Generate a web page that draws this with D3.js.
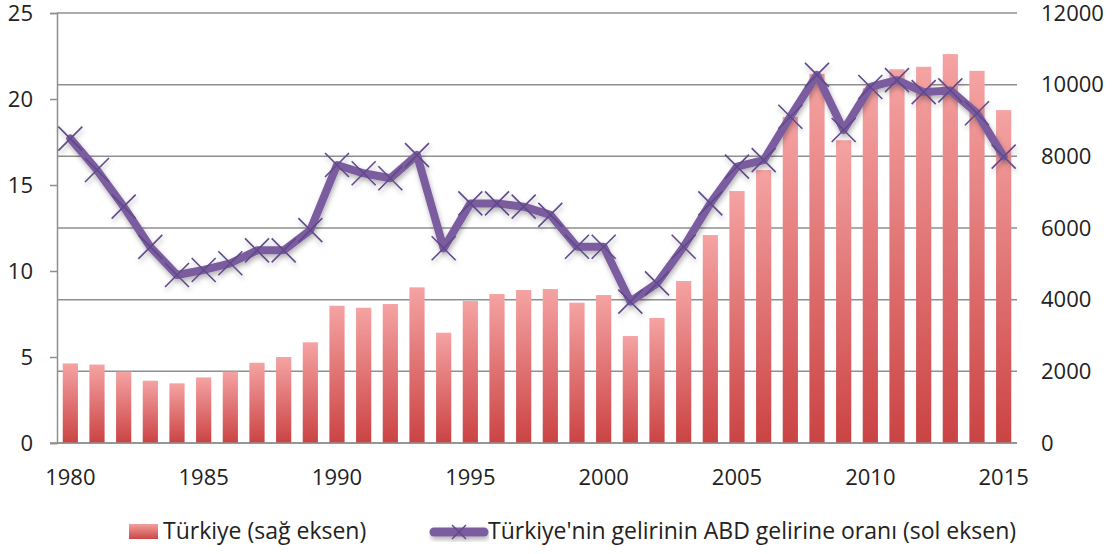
<!DOCTYPE html>
<html>
<head>
<meta charset="utf-8">
<script src="https://cdn.jsdelivr.net/npm/d3@7"></script>
<style>
  html, body { margin: 0; padding: 0; background: #fff; }
  svg { display: block; font-family: "Open Sans", sans-serif; }
</style>
</head>
<body>
<svg id="chart" width="1112" height="554"></svg>
<script>
const years = d3.range(1980, 2016);
const incomeTR = [2220, 2190, 1990, 1740, 1665, 1830, 1990, 2240, 2400, 2810,
  3830, 3775, 3878, 4344, 3078, 3962, 4157, 4269, 4297, 3915,
  4129, 2985, 3488, 4520, 5803, 7031, 7617, 9100, 10300, 8450,
  9900, 10430, 10500, 10853, 10387, 9290];
const ratioUS = [17.7, 15.87, 13.74, 11.4, 9.77, 10.06, 10.45, 11.2, 11.2, 12.38,
  16.16, 15.68, 15.39, 16.74, 11.32, 13.93, 13.93, 13.74, 13.26, 11.41,
  11.41, 8.22, 9.28, 11.41, 13.93, 16.07, 16.45, 18.97, 21.4, 18.2,
  20.7, 21.1, 20.4, 20.5, 19.17, 16.65];
const leftTicks = [0, 5, 10, 15, 20, 25];
const rightTicks = [0, 2000, 4000, 6000, 8000, 10000, 12000];
const xTickLabels = [1980, 1985, 1990, 1995, 2000, 2005, 2010, 2015];
const legendLabels = ["Türkiye (sağ eksen)", "Türkiye'nin gelirinin ABD gelirine oranı (sol eksen)"];

const svg = d3.select("#chart");
const L = 57, R = 1017, T = 13, B = 443;

const x = d3.scaleBand().domain(years).range([L, R]).paddingInner(0.43).paddingOuter(0.215);
const yL = d3.scaleLinear().domain([0, 25]).range([B, T]);
const yR = d3.scaleLinear().domain([0, 12000]).range([B, T]);

const defs = svg.append("defs");
const grad = defs.append("linearGradient").attr("id", "barGrad")
  .attr("x1", 0).attr("y1", 0).attr("x2", 0).attr("y2", 1);
grad.append("stop").attr("offset", "0%").attr("stop-color", "#f5a3a3");
grad.append("stop").attr("offset", "100%").attr("stop-color", "#cb4343");
const lgrad = defs.append("linearGradient").attr("id", "legGrad")
  .attr("x1", 0).attr("y1", 0).attr("x2", 0).attr("y2", 1);
lgrad.append("stop").attr("offset", "0%").attr("stop-color", "#f3a0a0");
lgrad.append("stop").attr("offset", "100%").attr("stop-color", "#cc4646");

const shadow = defs.append("filter").attr("id", "shadow")
  .attr("x", "-10%").attr("y", "-10%").attr("width", "120%").attr("height", "130%");
shadow.append("feDropShadow").attr("dx", 1).attr("dy", 3).attr("stdDeviation", 2.5)
  .attr("flood-color", "#000").attr("flood-opacity", 0.3);

// gridlines (right axis)
svg.append("g").selectAll("line").data(rightTicks).join("line")
  .attr("x1", L).attr("x2", R)
  .attr("y1", d => yR(d)).attr("y2", d => yR(d))
  .attr("stroke", "#8f8f8f").attr("stroke-width", 1.5);

// left axis
const gL = svg.append("g").attr("transform", `translate(${L},0)`)
  .call(d3.axisLeft(yL).tickValues(leftTicks).tickSize(7).tickPadding(17).tickFormat(d3.format("d")));
gL.select(".domain").attr("stroke", "#8f8f8f").attr("stroke-width", 1.5);
gL.selectAll(".tick line").attr("stroke", "#8f8f8f").attr("stroke-width", 1.5);
gL.selectAll("text").attr("font-size", 22).attr("fill", "#222").attr("font-family", "Open Sans");

// right axis labels
const gR = svg.append("g").attr("transform", `translate(${R},0)`)
  .call(d3.axisRight(yR).tickValues(rightTicks).tickSize(0).tickPadding(24).tickFormat(d3.format("d")));
gR.select(".domain").remove();
gR.selectAll("text").attr("font-size", 22).attr("fill", "#222").attr("font-family", "Open Sans");

// bars
svg.append("g").selectAll("rect").data(years).join("rect")
  .attr("x", (d) => x(d))
  .attr("width", x.bandwidth())
  .attr("y", (d, i) => yR(incomeTR[i]))
  .attr("height", (d, i) => B - yR(incomeTR[i]))
  .attr("fill", "url(#barGrad)");

// x axis
svg.append("line").attr("x1", L - 7).attr("x2", R).attr("y1", B).attr("y2", B)
  .attr("stroke", "#8f8f8f").attr("stroke-width", 1.5);
const gX = svg.append("g").attr("transform", `translate(0,${B})`)
  .call(d3.axisBottom(x).tickValues(xTickLabels).tickSize(0).tickPadding(26));
gX.select(".domain").remove();
gX.selectAll("text").attr("font-size", 22).attr("fill", "#222").attr("font-family", "Open Sans");

// line
const cx = (d) => x(d) + x.bandwidth() / 2;
const lineGen = d3.line().x((d, i) => cx(years[i])).y(d => yL(d));
const lineG = svg.append("g").attr("filter", "url(#shadow)");
lineG.append("path").datum(ratioUS)
  .attr("d", lineGen)
  .attr("fill", "none").attr("stroke", "#7a5c9f").attr("stroke-width", 8)
  .attr("stroke-linejoin", "round").attr("stroke-linecap", "round");
const m = 12;
lineG.append("g").selectAll("path").data(ratioUS).join("path")
  .attr("d", (d, i) => {
    const px = cx(years[i]), py = yL(d);
    return `M${px - m},${py - m}L${px + m},${py + m}M${px - m},${py + m}L${px + m},${py - m}`;
  })
  .attr("stroke", "#62498a").attr("stroke-width", 1.6).attr("fill", "none");

// legend
const lg = svg.append("g");
lg.append("rect").attr("x", 129).attr("y", 524).attr("width", 29).attr("height", 15).attr("fill", "url(#legGrad)");
lg.append("text").attr("x", 163).attr("y", 539).attr("font-size", 23).attr("fill", "#222")
  .text(legendLabels[0]);
const lgl = lg.append("g").attr("filter", "url(#shadow)");
lgl.append("line").attr("x1", 434).attr("x2", 484).attr("y1", 532).attr("y2", 532)
  .attr("stroke", "#7a5c9f").attr("stroke-width", 9).attr("stroke-linecap", "round");
lgl.append("path").attr("d", `M${459 - 7},${532 - 7}L${459 + 7},${532 + 7}M${459 - 7},${532 + 7}L${459 + 7},${532 - 7}`)
  .attr("stroke", "#62498a").attr("stroke-width", 1.5);
lg.append("text").attr("x", 488).attr("y", 539).attr("font-size", 23).attr("fill", "#222")
  .text(legendLabels[1]);
</script>
</body>
</html>
